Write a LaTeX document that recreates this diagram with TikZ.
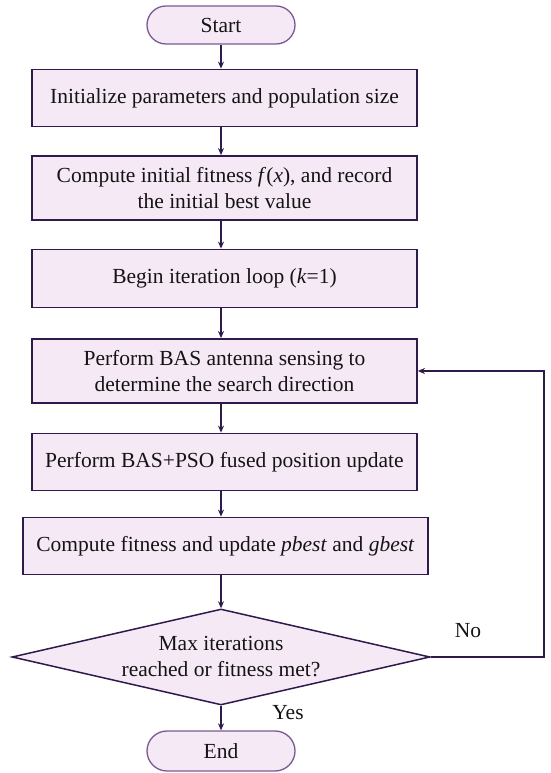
\documentclass[tikz,border=0pt]{standalone}
\usepackage{fontspec}
\setmainfont{Liberation Serif}
\usetikzlibrary{shapes.misc,shapes.geometric,arrows.meta}
\definecolor{fillc}{HTML}{F6E9F6}
\definecolor{edgec}{HTML}{2F1A4C}
\definecolor{termc}{HTML}{7A5A92}
\definecolor{txtc}{HTML}{141414}
\tikzset{
  every node/.style={font=\fontsize{21.5}{26}\selectfont, text=txtc},
  procbox/.style={draw=edgec, fill=fillc, line width=1.8pt, rectangle, minimum width=385pt, align=center, inner sep=0pt},
  termbox/.style={draw=termc, fill=fillc, line width=1.3pt, rounded rectangle, minimum width=148pt, minimum height=38pt, inner sep=0pt},
  decbox/.style={draw=edgec, fill=fillc, line width=1.5pt, diamond, aspect=4.35, minimum width=418pt, minimum height=96pt, inner sep=0pt, align=center},
  flow/.style={draw=edgec, line width=1.2pt, -{Stealth[length=7pt,width=6pt]}}
}
\begin{document}
\begin{tikzpicture}[x=1pt,y=1pt]
\useasboundingbox (0,0) rectangle (550,773);
\node[termbox] (start) at (221,748) {Start};
\node[procbox, minimum height=57pt] (b1) at (224.5,675) {Initialize parameters and population size};
\node[procbox, minimum height=64pt] (b2) at (224.5,585) {Compute initial fitness \textit{f}(\textit{x}), and record\\the initial best value};
\node[procbox, minimum height=58pt] (b3) at (224.5,494.5) {Begin iteration loop (\textit{k}=1)};
\node[procbox, minimum height=64pt] (b4) at (224.5,402) {Perform BAS antenna sensing to\\determine the search direction};
\node[procbox, minimum height=57pt] (b5) at (224.5,311) {Perform BAS+PSO fused position update};
\node[procbox, minimum height=57pt, minimum width=405pt] (b6) at (225.5,227) {Compute fitness and update \textit{pbest} and \textit{gbest}};
\node[decbox] (dec) at (221,116) {Max iterations\\reached or fitness met?};
\node[termbox, minimum height=40pt] (end) at (221,22) {End};
\coordinate (c1) at (544,116);
\coordinate (c2) at (544,402);
\draw[flow] (start.south) -- (start.south |- b1.north);
\draw[flow] (start.south |- b1.south) -- (start.south |- b2.north);
\draw[flow] (start.south |- b2.south) -- (start.south |- b3.north);
\draw[flow] (start.south |- b3.south) -- (start.south |- b4.north);
\draw[flow] (start.south |- b4.south) -- (start.south |- b5.north);
\draw[flow] (start.south |- b5.south) -- (start.south |- b6.north);
\draw[flow] (start.south |- b6.south) -- (dec.north);
\draw[flow] (dec.south) -- (end.north);
\draw[flow] (dec.east) -- (c1) -- (c2) -- (b4.east);
\node (no) at (468,142) {No};
\node (yes) at (288,60) {Yes};
\end{tikzpicture}
\end{document}
